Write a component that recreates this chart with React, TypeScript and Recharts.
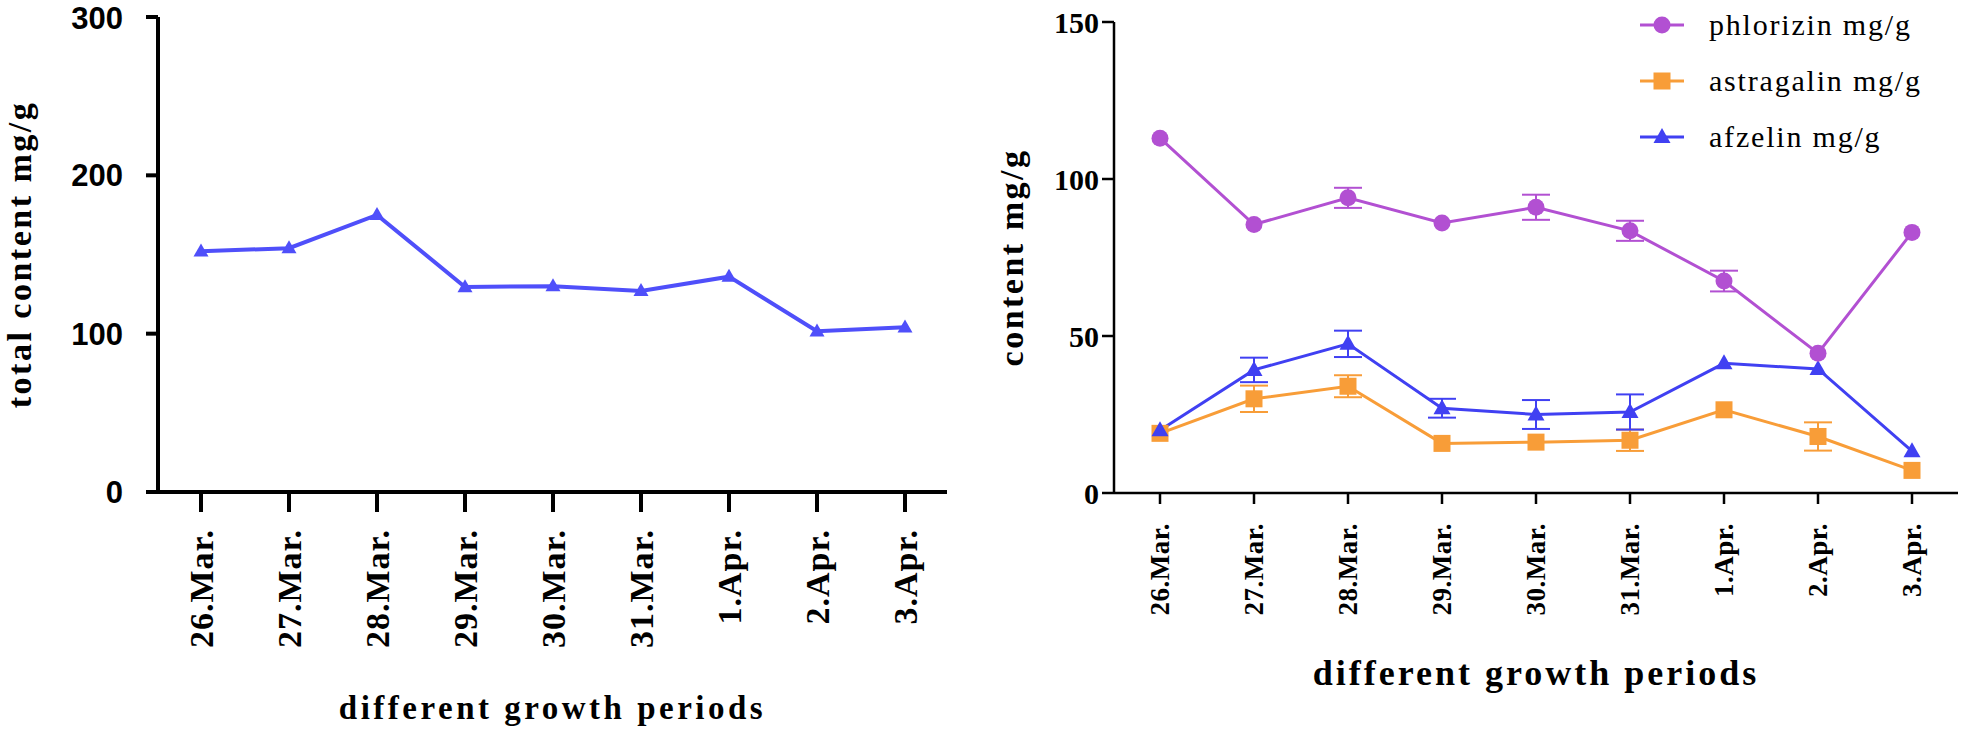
import { LineChart, Line, XAxis, YAxis, ErrorBar, Legend } from 'recharts'

const periods = ['26.Mar.', '27.Mar.', '28.Mar.', '29.Mar.', '30.Mar.', '31.Mar.', '1.Apr.', '2.Apr.', '3.Apr.']

const totalContent = [152, 154, 175, 129.5, 130, 127, 136, 101.5, 104]

const phlorizin = [113, 85.5, 94, 86, 91, 83.5, 67.5, 44.5, 83]
const phlorizinErr = [0, 0, 3.2, 0, 4, 3.2, 3.3, 0, 0]
const astragalin = [19, 30, 34, 15.8, 16.2, 16.8, 26.5, 18, 7.2]
const astragalinErr = [0, 4.2, 3.5, 0, 0, 3.4, 0, 4.5, 0]
const afzelin = [20, 39.2, 47.5, 27, 25, 25.8, 41.3, 39.5, 13.3]
const afzelinErr = [0, 3.9, 4.2, 3, 4.6, 5.6, 0, 0, 0]

const totalTicks = [0, 100, 200, 300]
const contentTicks = [0, 50, 100, 150]

const totalData = periods.map((period, i) => ({ period, total: totalContent[i] }))
const compoundData = periods.map((period, i) => ({
  period,
  phlorizin: phlorizin[i],
  phlorizinErr: phlorizinErr[i],
  astragalin: astragalin[i],
  astragalinErr: astragalinErr[i],
  afzelin: afzelin[i],
  afzelinErr: afzelinErr[i],
}))

const PURPLE = '#b250d2'
const ORANGE = '#f89d38'
const BLUE = '#4040f2'
const LEFT_BLUE = '#4f4ffa'
const SERIF = '"Liberation Serif", "DejaVu Serif", serif'
const SANS = '"Liberation Sans", Arial, sans-serif'

function CircleMark({ cx, cy, color }: any) {
  return <circle cx={cx} cy={cy} r={8.5} fill={color} />
}

function SquareMark({ cx, cy, color }: any) {
  return <rect x={cx - 8.5} y={cy - 8.5} width={17} height={17} fill={color} />
}

function TriangleMark({ cx, cy, color, w = 17, h = 15 }: any) {
  return (
    <polygon
      points={`${cx},${cy - h * 0.6} ${cx - w / 2},${cy + h * 0.4} ${cx + w / 2},${cy + h * 0.4}`}
      fill={color}
    />
  )
}

function makeDateTick(fontSize: number, spacing: number) {
  return (props: any) => {
    const { x, y, payload } = props
    return (
      <g transform={`translate(${x},${y}) rotate(-90)`}>
        <text
          textAnchor="end"
          dy="0.35em"
          fill="#000"
          style={{ fontFamily: SERIF, fontWeight: 'bold', fontSize, letterSpacing: spacing }}
        >
          {payload.value}
        </text>
      </g>
    )
  }
}

const legendItems = [
  { name: 'phlorizin mg/g', color: PURPLE, mark: CircleMark },
  { name: 'astragalin mg/g', color: ORANGE, mark: SquareMark },
  { name: 'afzelin mg/g', color: BLUE, mark: TriangleMark },
]

function renderLegend() {
  return (
    <div>
      {legendItems.map((item) => {
        const Mark = item.mark
        return (
          <div key={item.name} style={{ display: 'flex', alignItems: 'center', height: 56 }}>
            <svg width={44} height={20}>
              <line x1={0} y1={10} x2={44} y2={10} stroke={item.color} strokeWidth={3} />
              <Mark cx={22} cy={10} color={item.color} />
            </svg>
            <span
              style={{
                marginLeft: 25,
                fontFamily: SERIF,
                fontSize: 30,
                letterSpacing: 1.8,
                color: '#000',
              }}
            >
              {item.name}
            </span>
          </div>
        )
      })}
    </div>
  )
}

const titleStyle = { fontFamily: SERIF, fontWeight: 'bold', fill: '#000', textAnchor: 'middle' } as any

export default function App() {
  return (
    <div style={{ position: 'absolute', left: 0, top: 0, width: 1961, height: 732, background: '#fff' }}>
      <div style={{ position: 'absolute', left: 0, top: 0 }}>
        <LineChart width={960} height={732} data={totalData} margin={{ top: 17, right: 13, left: 0, bottom: 0 }}>
          <XAxis
            dataKey="period"
            height={240}
            padding={{ left: 43, right: 42 }}
            interval={0}
            tickSize={20}
            tickMargin={17}
            axisLine={{ stroke: '#000', strokeWidth: 4 }}
            tickLine={{ stroke: '#000', strokeWidth: 4 }}
            tick={makeDateTick(34, 1)}
            label={{
              value: 'different growth periods',
              position: 'insideBottom',
              offset: 13,
              style: { ...titleStyle, fontSize: 33, letterSpacing: 3.5 },
            }}
          />
          <YAxis
            width={158}
            domain={[0, 300]}
            ticks={totalTicks}
            tickSize={12}
            tickMargin={23}
            axisLine={{ stroke: '#000', strokeWidth: 4 }}
            tickLine={{ stroke: '#000', strokeWidth: 4 }}
            tick={{ fill: '#000', fontSize: 31, fontFamily: SANS, fontWeight: 'bold' }}
            label={{
              value: 'total content mg/g',
              angle: -90,
              position: 'insideLeft',
              offset: 19,
              style: { ...titleStyle, fontSize: 34, letterSpacing: 2.5 },
            }}
          />
          <Line
            dataKey="total"
            stroke={LEFT_BLUE}
            strokeWidth={4}
            isAnimationActive={false}
            activeDot={false}
            dot={(p: any) => <TriangleMark key={`tot-${p.index}`} cx={p.cx} cy={p.cy} color={LEFT_BLUE} w={15} h={13} />}
          />
        </LineChart>
      </div>

      <div style={{ position: 'absolute', left: 960, top: 0 }}>
        <LineChart width={1001} height={732} data={compoundData} margin={{ top: 22, right: 3, left: 0, bottom: 0 }}>
          <XAxis
            dataKey="period"
            height={239}
            padding={{ left: 46, right: 46 }}
            interval={0}
            tickSize={11}
            tickMargin={19}
            axisLine={{ stroke: '#000', strokeWidth: 2.5 }}
            tickLine={{ stroke: '#000', strokeWidth: 2.5 }}
            tick={makeDateTick(27, 0.5)}
            label={{
              value: 'different growth periods',
              position: 'insideBottom',
              offset: 47,
              style: { ...titleStyle, fontSize: 36, letterSpacing: 3 },
            }}
          />
          <YAxis
            width={154}
            domain={[0, 150]}
            ticks={contentTicks}
            tickSize={12}
            tickMargin={3}
            axisLine={{ stroke: '#000', strokeWidth: 2.5 }}
            tickLine={{ stroke: '#000', strokeWidth: 2.5 }}
            tick={{ fill: '#000', fontSize: 30, fontFamily: SERIF, fontWeight: 'bold' }}
            label={{
              value: 'content mg/g',
              angle: -90,
              position: 'insideLeft',
              offset: 51,
              style: { ...titleStyle, fontSize: 34, letterSpacing: 2.5 },
            }}
          />
          <Legend
            layout="vertical"
            align="center"
            verticalAlign="middle"
            content={renderLegend}
            wrapperStyle={{ left: 680, top: -3, width: 320 }}
          />
          <Line
            dataKey="astragalin"
            stroke={ORANGE}
            strokeWidth={3}
            isAnimationActive={false}
            activeDot={false}
            dot={(p: any) => <SquareMark key={`ast-${p.index}`} cx={p.cx} cy={p.cy} color={ORANGE} />}
          >
            <ErrorBar dataKey="astragalinErr" width={14} strokeWidth={2} stroke={ORANGE} direction="y" />
          </Line>
          <Line
            dataKey="afzelin"
            stroke={BLUE}
            strokeWidth={3}
            isAnimationActive={false}
            activeDot={false}
            dot={(p: any) => <TriangleMark key={`afz-${p.index}`} cx={p.cx} cy={p.cy} color={BLUE} />}
          >
            <ErrorBar dataKey="afzelinErr" width={14} strokeWidth={2} stroke={BLUE} direction="y" />
          </Line>
          <Line
            dataKey="phlorizin"
            stroke={PURPLE}
            strokeWidth={3}
            isAnimationActive={false}
            activeDot={false}
            dot={(p: any) => <CircleMark key={`phl-${p.index}`} cx={p.cx} cy={p.cy} color={PURPLE} />}
          >
            <ErrorBar dataKey="phlorizinErr" width={14} strokeWidth={2} stroke={PURPLE} direction="y" />
          </Line>
        </LineChart>
      </div>
    </div>
  )
}
